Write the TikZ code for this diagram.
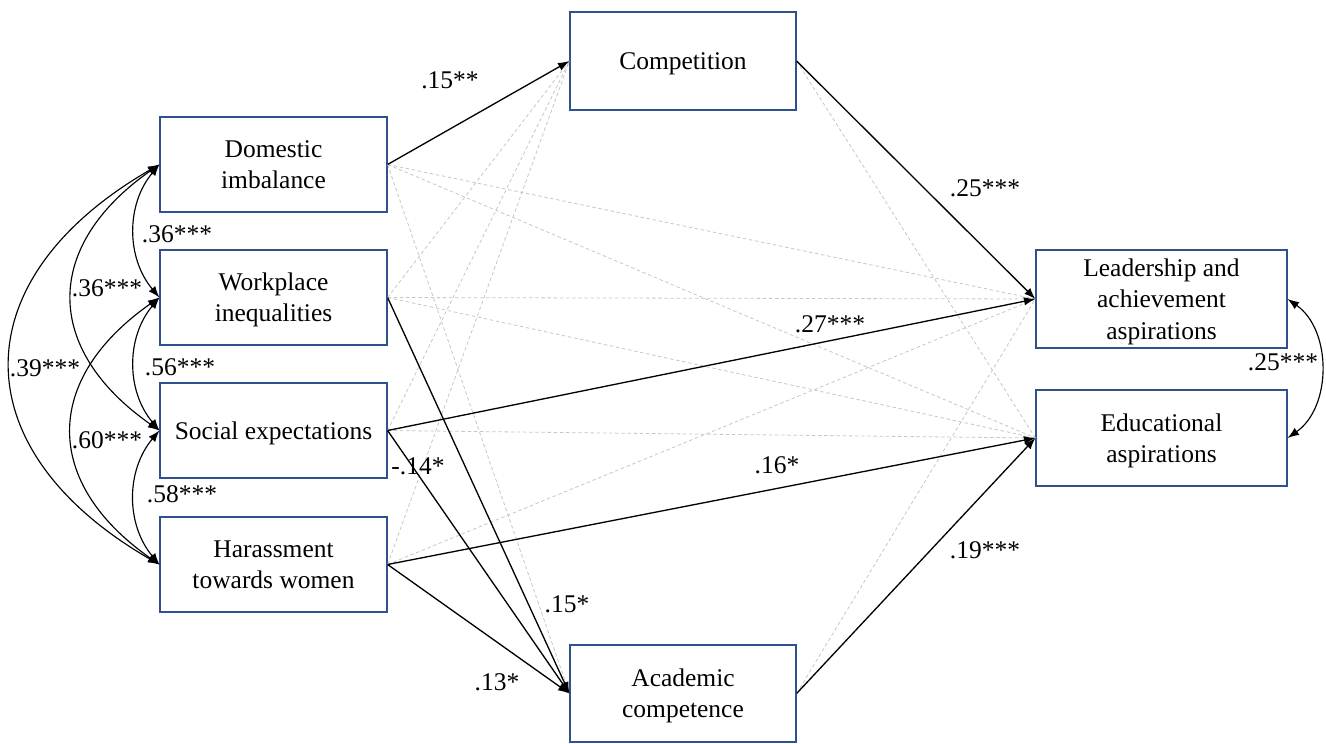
\documentclass[tikz,border=0pt]{standalone}
\usepackage{fontspec}
\setmainfont{Liberation Serif}
\usepackage{xcolor}
\usepackage{tikz}
\usetikzlibrary{arrows,arrows.meta,positioning}
\definecolor{boxblue}{RGB}{47,82,143}

\begin{document}
\begin{tikzpicture}[
	x=0.02cm, y=-0.02cm,
	every node/.style={font=\fontsize{14.5}{17.8}\selectfont},
	var/.style={draw=boxblue, line width=0.7pt, align=center, inner sep=0pt, minimum width=4.54cm, minimum height=1.9cm, text depth=0pt},
	sig/.style={-{Latex[length=6.5pt,width=4.8pt]}, line width=0.75pt},
	ns/.style={gray!45, dash pattern=on 2pt off 1.5pt, line width=0.45pt},
	cov/.style={{Latex[length=6.5pt,width=4.8pt]}-{Latex[length=6.5pt,width=4.8pt]}, line width=0.65pt}
	]
	\useasboundingbox (0,0) rectangle (1326,744);

	\node[var] (dom) at (273.5,164.5) {Domestic\\imbalance};
	\node[var] (work) at (273.5,297.5) {Workplace\\inequalities};
	\node[var] (soc) at (273.5,430.5) {Social expectations};
	\node[var] (har) at (273.5,564.5) {Harassment\\towards women};
	\node[var, minimum width=4.52cm, minimum height=1.96cm] (comp) at (683,61) {Competition};
	\node[var, minimum width=4.52cm, minimum height=1.94cm] (acad) at (683,693.5) {Academic\\competence};
	\node[var, minimum width=5.02cm, minimum height=1.96cm] (lead) at (1161.5,299) {Leadership and\\achievement\\aspirations};
	\node[var, minimum width=5.02cm, minimum height=1.92cm] (edu) at (1161.5,438) {Educational\\aspirations};

	\foreach \s in {work,soc,har}
		\draw[ns] (\s.east) -- (comp.west);
	\foreach \s in {dom,work}
		\draw[ns] (\s.east) -- (lead.west);
	\foreach \s in {dom,work,soc}
		\draw[ns] (\s.east) -- (edu.west);
	\draw[ns] (dom.east) -- (acad.west);
	\draw[ns] (har.east) -- (lead.west);
	\draw[ns] (comp.east) -- (edu.west);
	\draw[ns] (acad.east) -- (lead.west);

	\draw[sig] (dom.east) -- (comp.west);
	\draw[sig] (comp.east) -- (lead.west);
	\draw[sig] (soc.east) -- (lead.west);
	\draw[sig] (har.east) -- (edu.west);
	\draw[sig] (acad.east) -- (edu.west);
	\draw[sig] (work.east) -- (acad.west);
	\draw[sig] (soc.east) -- (acad.west);
	\draw[sig] (har.east) -- (acad.west);

	\node (b1) at (450,80) {.15**};
	\node (b2) at (985,188) {.25***};
	\node (b3) at (830,324) {.27***};
	\node (b4) at (777,465) {.16*};
	\node (b5) at (985,550) {.19***};
	\node (b6) at (418,466) {-.14*};
	\node (b7) at (567,604) {.15*};
	\node (b8) at (497,682) {.13*};

	\draw[cov] (dom.west) to[bend right=40] (work.west);
	\draw[cov] (work.west) to[bend right=40] (soc.west);
	\draw[cov] (soc.west) to[bend right=40] (har.west);
	\draw[cov] (dom.west) to[bend right=55, looseness=1.37] (soc.west);
	\draw[cov] (work.west) to[bend right=55, looseness=1.37] (har.west);
	\draw[cov] (dom.west) to[bend right=60, looseness=1.47] (har.west);
	\draw[cov] (lead.east) to[bend left=55] (edu.east);

	\node (r1) at (177,234) {.36***};
	\node (r2) at (107,288) {.36***};
	\node (r3) at (45,368) {.39***};
	\node (r4) at (180,367) {.56***};
	\node (r5) at (107,440) {.60***};
	\node (r6) at (182,494) {.58***};
	\node (r7) at (1283,362) {.25***};

\end{tikzpicture}
\end{document}
